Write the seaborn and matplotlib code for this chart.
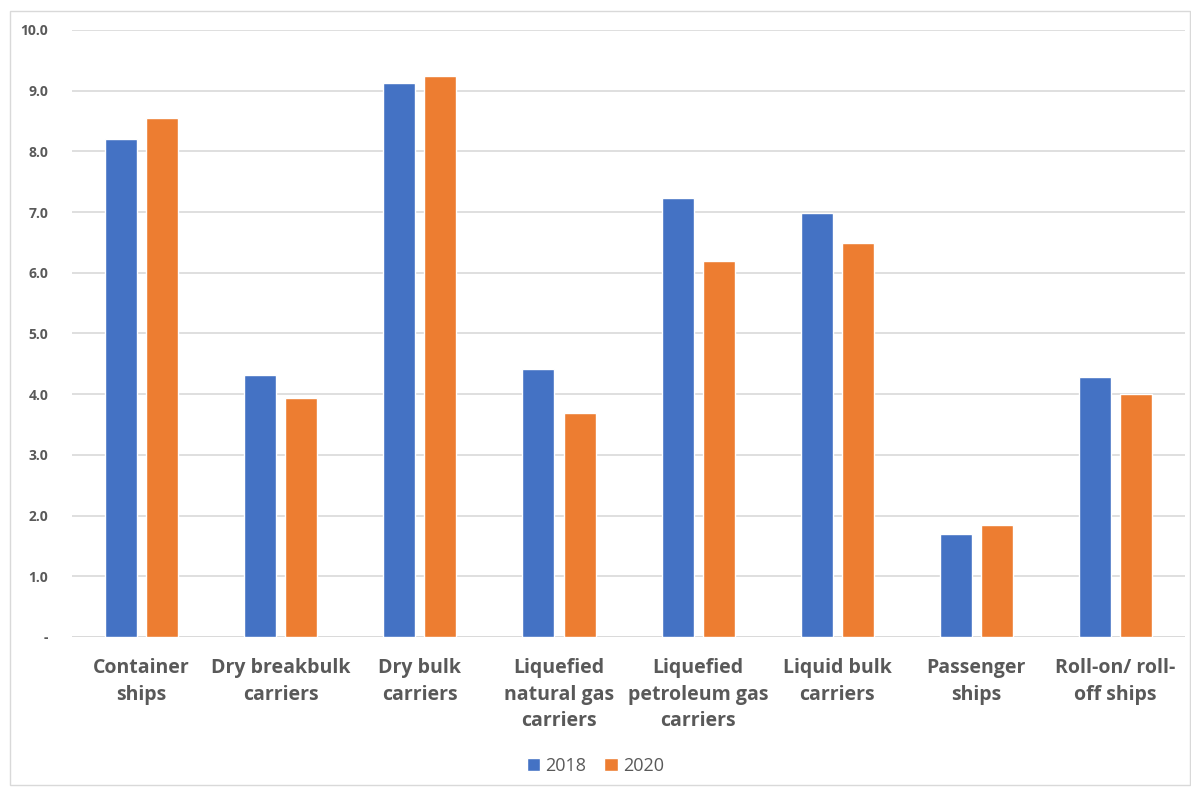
import matplotlib
matplotlib.use("Agg")
import matplotlib.pyplot as plt
import seaborn as sns
import pandas as pd
from matplotlib.patches import Rectangle

categories = [
    "Container\nships",
    "Dry breakbulk\ncarriers",
    "Dry bulk\ncarriers",
    "Liquefied\nnatural gas\ncarriers",
    "Liquefied\npetroleum gas\ncarriers",
    "Liquid bulk\ncarriers",
    "Passenger\nships",
    "Roll-on/ roll-\noff ships",
]
years = ["2018", "2020"]
values_2018 = [8.20, 4.32, 9.13, 4.42, 7.23, 6.99, 1.70, 4.28]
values_2020 = [8.55, 3.94, 9.24, 3.69, 6.19, 6.49, 1.85, 4.00]
y_ticks = [0, 1, 2, 3, 4, 5, 6, 7, 8, 9, 10]
y_tick_labels = ["-", "1.0", "2.0", "3.0", "4.0", "5.0", "6.0", "7.0", "8.0", "9.0", "10.0"]
colors = ["#4472C4", "#ED7D31"]

df = pd.DataFrame({
    "category": categories * 2,
    "year": [years[0]] * len(categories) + [years[1]] * len(categories),
    "value": values_2018 + values_2020,
})

sns.set_theme(style="white")
plt.rcParams["font.family"] = ["Open Sans", "DejaVu Sans"]

fig = plt.figure(figsize=(11.91, 7.87), dpi=100)
ax = fig.add_axes([0.0605, 0.1906, 0.9345, 0.7713])

sns.barplot(data=df, x="category", y="value", hue="year", palette=colors,
            width=0.59, gap=0.22, ax=ax, saturation=1, legend=True)

ax.set_ylim(0, 10)
ax.set_xlim(-0.5, len(categories) - 0.5)
ax.set_yticks(y_ticks)
ax.set_yticklabels(y_tick_labels)
ax.yaxis.grid(True, color="#D9D9D9", linewidth=1.2)
ax.set_axisbelow(True)
for s in ax.spines.values():
    s.set_visible(False)
ax.axhline(0, color="#D9D9D9", linewidth=1.2, zorder=0)
ax.set_xlabel("")
ax.set_ylabel("")
ax.tick_params(axis="y", length=0, pad=17, labelsize=10, labelcolor="#595959")
ax.tick_params(axis="x", length=0, pad=15, labelsize=14, labelcolor="#595959")
for lbl in ax.get_yticklabels():
    lbl.set_fontweight("bold")
for lbl in ax.get_xticklabels():
    lbl.set_fontweight("bold")
    lbl.set_verticalalignment("top")
    lbl.set_linespacing(1.45)

handles, labels = ax.get_legend_handles_labels()
ax.legend(handles, labels, loc="center", bbox_to_anchor=(0.5, 0.027),
          bbox_transform=fig.transFigure, ncol=2, frameon=False,
          fontsize=13, handlelength=0.75, handleheight=0.75, handletextpad=0.3,
          columnspacing=1.0, labelcolor="#595959")

fig.patches.append(Rectangle((10 / 1191, 2 / 787), 1180 / 1191, 774 / 787,
                             transform=fig.transFigure, fill=False,
                             edgecolor="#D9D9D9", linewidth=1.0))

fig.savefig("out.png", dpi=100, facecolor="white")
